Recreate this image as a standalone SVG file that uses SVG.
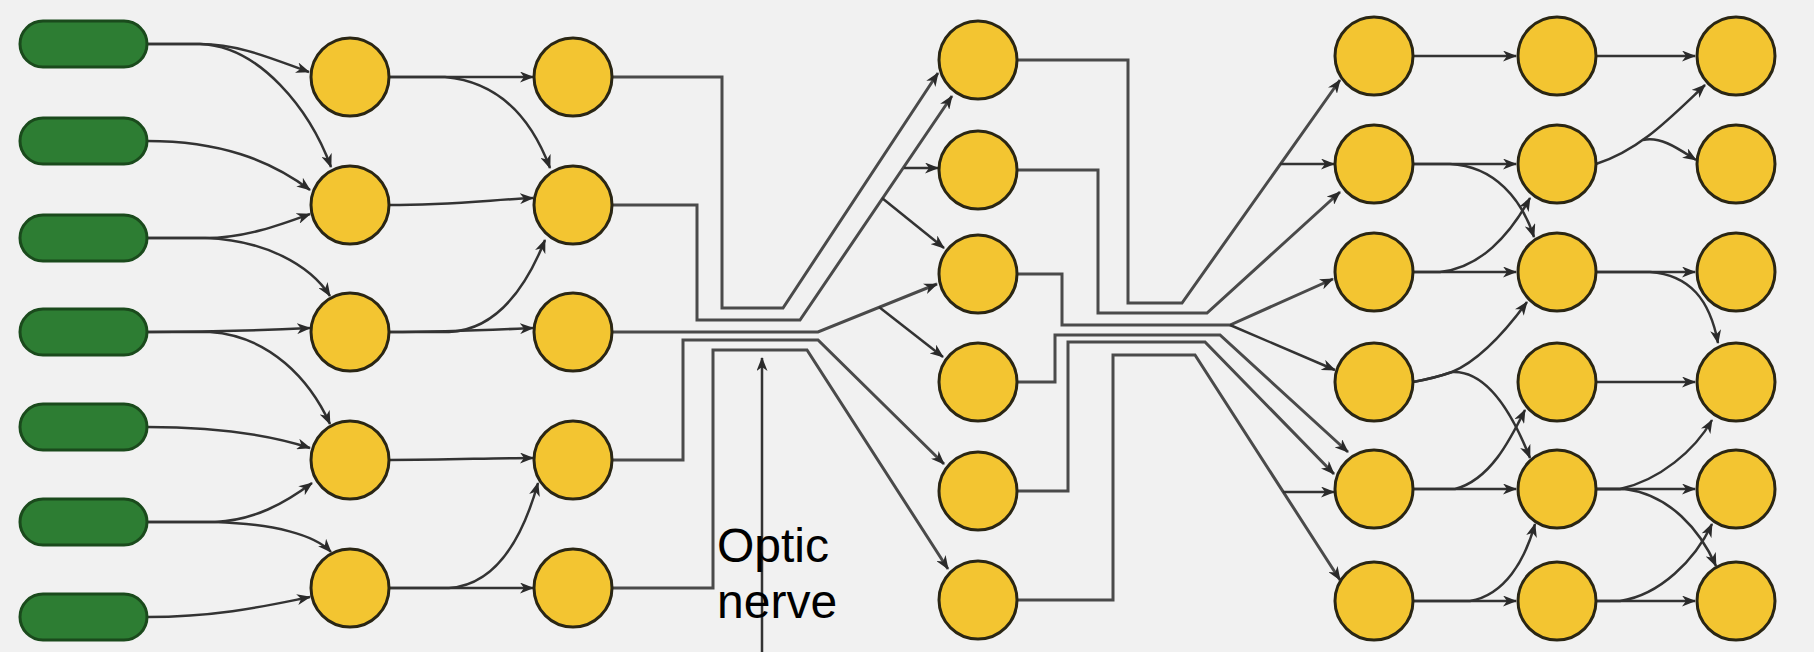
<svg xmlns="http://www.w3.org/2000/svg" width="1814" height="652" viewBox="0 0 1814 652">
<defs>
<marker id="ah" markerUnits="userSpaceOnUse" markerWidth="15" markerHeight="11" refX="13" refY="5.5" orient="auto">
<path d="M0,0 L14,5.5 L0,11 L4,5.5 Z" fill="#2a2a2a"/>
</marker>
<style>
.pill{fill:#2d7d33;stroke:#1a4a1c;stroke-width:3}
.cell{fill:#f3c531;stroke:#2a2614;stroke-width:3}
.ln{fill:none;stroke:#333;stroke-width:2.5}
.bd{fill:none;stroke:#4a4a4a;stroke-width:3}
.ar{marker-end:url(#ah)}
.lbl{font-family:"Liberation Sans",Arial,sans-serif;font-size:48px;fill:#000}
</style>
</defs>
<rect x="0" y="0" width="1814" height="652" fill="#f1f1f1"/>

<g id="connectors">
<!-- pills to B -->
<path class="ln ar" d="M147,44 H200 C240,44 275,60 309,72"/>
<path class="ln ar" d="M147,44 H200 C260,46 310,110 331,167"/>
<path class="ln ar" d="M147,141 C220,141 270,160 310,190"/>
<path class="ln ar" d="M147,238 H205 C245,238 280,225 310,214"/>
<path class="ln ar" d="M147,238 H205 C265,240 310,265 330,296"/>
<path class="ln ar" d="M147,332 C220,332 270,330 310,328"/>
<path class="ln ar" d="M147,332 H210 C270,336 310,380 330,424"/>
<path class="ln ar" d="M147,427 C220,427 270,435 310,448"/>
<path class="ln ar" d="M147,522 H215 C255,520 285,503 312,483"/>
<path class="ln ar" d="M147,522 H215 C275,524 315,535 331,552"/>
<path class="ln ar" d="M147,617 C220,617 270,605 310,597"/>
<!-- B to C -->
<path class="ln ar" d="M389,77 H533"/>
<path class="ln ar" d="M389,77 H445 C500,82 532,120 550,168"/>
<path class="ln ar" d="M389,205 C450,205 490,200 533,198"/>
<path class="ln ar" d="M389,332 H449 C495,330 525,290 545,240"/>
<path class="ln ar" d="M389,332 C450,332 490,330 533,328"/>
<path class="ln ar" d="M389,460 C450,460 490,458 533,458"/>
<path class="ln ar" d="M389,588 H533"/>
<path class="ln ar" d="M389,588 H449 C495,585 522,540 538,483"/>
<!-- C to D via optic nerve bundle -->
<path class="bd ar" d="M612,77 H722 V308 H783 L938,73"/>
<path class="bd ar" d="M612,205 H697 V320 H800 L952,96"/>
<path class="ln ar" d="M904,168 H938"/>
<path class="ln ar" d="M882,198 L944,248"/>
<path class="bd ar" d="M612,332 H818 L937,284"/>
<path class="ln ar" d="M879,307 L943,357"/>
<path class="bd ar" d="M612,460 H683 V340 H818 L944,464"/>
<path class="bd ar" d="M612,588 H713 V350 H807 L948,569"/>
<path class="ln ar" d="M762,652 V358"/>
<!-- D to E bundle -->
<path class="bd ar" d="M1017,60 H1128 V303 H1182 L1340,80"/>
<path class="ln ar" d="M1280,164 H1334"/>
<path class="bd ar" d="M1017,170 H1098 V313 H1207 L1340,192"/>
<path class="bd ar" d="M1017,274 H1062 V325 H1230 L1333,279"/>
<path class="ln ar" d="M1230,325 L1335,370"/>
<path class="bd ar" d="M1017,382 H1055 V335 H1220 L1348,452"/>
<path class="bd ar" d="M1017,491 H1068 V342 H1205 L1334,474"/>
<path class="bd ar" d="M1017,600 H1113 V355 H1195 L1340,580"/>
<path class="ln ar" d="M1283,492 H1334"/>
<!-- E to F -->
<path class="ln ar" d="M1413,56 H1516"/>
<path class="ln ar" d="M1413,164 H1516"/>
<path class="ln ar" d="M1413,164 H1450 C1495,166 1522,200 1534,237"/>
<path class="ln ar" d="M1413,272 H1516"/>
<path class="ln ar" d="M1413,272 H1440 C1480,268 1510,235 1530,198"/>
<path class="ln ar" d="M1413,382 Q1435,378 1452,372 C1480,360 1505,332 1527,302"/>
<path class="ln ar" d="M1413,382 Q1435,378 1452,372 C1490,370 1515,420 1530,458"/>
<path class="ln ar" d="M1413,489 H1516"/>
<path class="ln ar" d="M1413,489 H1455 C1490,480 1510,440 1525,410"/>
<path class="ln ar" d="M1413,601 H1516"/>
<path class="ln ar" d="M1413,601 H1470 C1505,595 1525,560 1535,524"/>
<!-- F to G -->
<path class="ln ar" d="M1596,56 H1695"/>
<path class="ln ar" d="M1596,164 C1640,150 1670,118 1705,85"/>
<path class="ln ar" d="M1643,140 C1662,136 1680,150 1696,160"/>
<path class="ln ar" d="M1596,272 H1695"/>
<path class="ln ar" d="M1596,272 H1650 C1690,275 1710,300 1718,343"/>
<path class="ln ar" d="M1596,382 H1695"/>
<path class="ln ar" d="M1596,489 H1620 C1660,480 1695,450 1712,420"/>
<path class="ln ar" d="M1596,489 H1695"/>
<path class="ln ar" d="M1596,489 H1625 C1670,495 1700,530 1716,566"/>
<path class="ln ar" d="M1596,601 H1695"/>
<path class="ln ar" d="M1596,601 H1620 C1660,595 1695,560 1712,524"/>
</g>

<g id="receptors">
<rect id="p1" class="pill" x="20" y="21" width="127" height="46" rx="23"/>
<rect id="p2" class="pill" x="20" y="118" width="127" height="46" rx="23"/>
<rect id="p3" class="pill" x="20" y="215" width="127" height="46" rx="23"/>
<rect id="p4" class="pill" x="20" y="309" width="127" height="46" rx="23"/>
<rect id="p5" class="pill" x="20" y="404" width="127" height="46" rx="23"/>
<rect id="p6" class="pill" x="20" y="499" width="127" height="46" rx="23"/>
<rect id="p7" class="pill" x="20" y="594" width="127" height="46" rx="23"/>
</g>

<g id="colB">
<circle id="b1" class="cell" cx="350" cy="77" r="39"/>
<circle id="b2" class="cell" cx="350" cy="205" r="39"/>
<circle id="b3" class="cell" cx="350" cy="332" r="39"/>
<circle id="b4" class="cell" cx="350" cy="460" r="39"/>
<circle id="b5" class="cell" cx="350" cy="588" r="39"/>
</g>
<g id="colC">
<circle id="c1" class="cell" cx="573" cy="77" r="39"/>
<circle id="c2" class="cell" cx="573" cy="205" r="39"/>
<circle id="c3" class="cell" cx="573" cy="332" r="39"/>
<circle id="c4" class="cell" cx="573" cy="460" r="39"/>
<circle id="c5" class="cell" cx="573" cy="588" r="39"/>
</g>
<g id="colD">
<circle id="d1" class="cell" cx="978" cy="60" r="39"/>
<circle id="d2" class="cell" cx="978" cy="170" r="39"/>
<circle id="d3" class="cell" cx="978" cy="274" r="39"/>
<circle id="d4" class="cell" cx="978" cy="382" r="39"/>
<circle id="d5" class="cell" cx="978" cy="491" r="39"/>
<circle id="d6" class="cell" cx="978" cy="600" r="39"/>
</g>
<g id="colE">
<circle id="e1" class="cell" cx="1374" cy="56" r="39"/>
<circle id="e2" class="cell" cx="1374" cy="164" r="39"/>
<circle id="e3" class="cell" cx="1374" cy="272" r="39"/>
<circle id="e4" class="cell" cx="1374" cy="382" r="39"/>
<circle id="e5" class="cell" cx="1374" cy="489" r="39"/>
<circle id="e6" class="cell" cx="1374" cy="601" r="39"/>
</g>
<g id="colF">
<circle id="f1" class="cell" cx="1557" cy="56" r="39"/>
<circle id="f2" class="cell" cx="1557" cy="164" r="39"/>
<circle id="f3" class="cell" cx="1557" cy="272" r="39"/>
<circle id="f4" class="cell" cx="1557" cy="382" r="39"/>
<circle id="f5" class="cell" cx="1557" cy="489" r="39"/>
<circle id="f6" class="cell" cx="1557" cy="601" r="39"/>
</g>
<g id="colG">
<circle id="g1" class="cell" cx="1736" cy="56" r="39"/>
<circle id="g2" class="cell" cx="1736" cy="164" r="39"/>
<circle id="g3" class="cell" cx="1736" cy="272" r="39"/>
<circle id="g4" class="cell" cx="1736" cy="382" r="39"/>
<circle id="g5" class="cell" cx="1736" cy="489" r="39"/>
<circle id="g6" class="cell" cx="1736" cy="601" r="39"/>
</g>

<g id="label">
<text class="lbl" x="717" y="562">Optic</text>
<text class="lbl" x="717" y="618">nerve</text>
</g>
</svg>
